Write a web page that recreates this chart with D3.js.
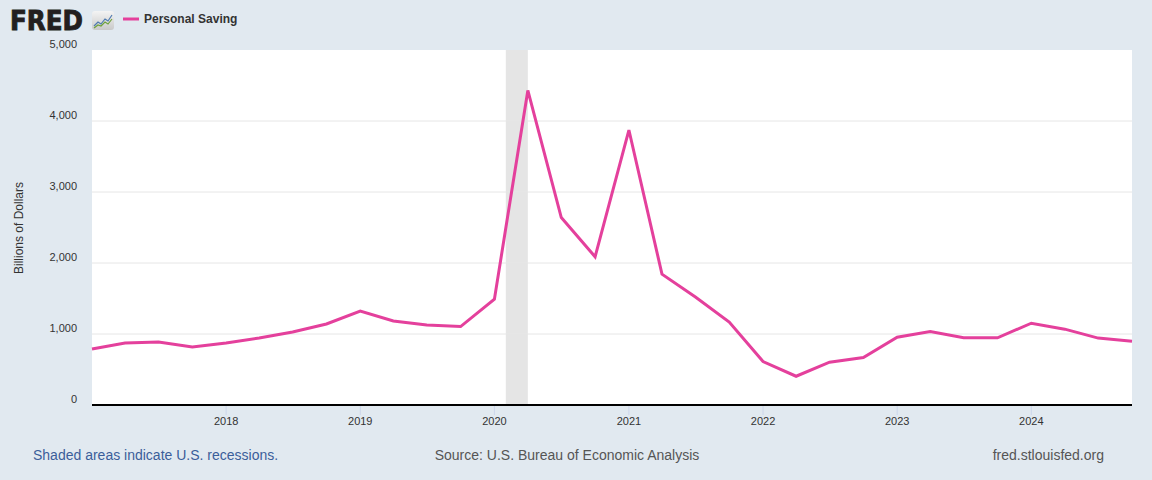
<!DOCTYPE html>
<html><head><meta charset="utf-8">
<script src="https://cdn.jsdelivr.net/npm/d3@7"></script>
<style>
html,body{margin:0;padding:0;background:#e1e9f0;}
svg{display:block;font-family:"Liberation Sans",Arial,sans-serif;}
</style></head><body>
<svg id="c" width="1152" height="480"></svg>
<script>
const dates = ["2017-01-01","2017-04-01","2017-07-01","2017-10-01","2018-01-01","2018-04-01","2018-07-01","2018-10-01",
"2019-01-01","2019-04-01","2019-07-01","2019-10-01","2020-01-01","2020-04-01","2020-07-01","2020-10-01",
"2021-01-01","2021-04-01","2021-07-01","2021-10-01","2022-01-01","2022-04-01","2022-07-01","2022-10-01",
"2023-01-01","2023-04-01","2023-07-01","2023-10-01","2024-01-01","2024-04-01","2024-07-01","2024-10-01"];
const saving = [789,873,887,817,873,944,1028,1141,1324,1183,1127,1105,1490,4430,2640,2087,
3873,1843,1521,1169,612,405,603,668,955,1036,946,946,1152,1068,942,899];
const yTicks = [0,1000,2000,3000,4000,5000];
const xTickYears = [2018,2019,2020,2021,2022,2023,2024];
const recessions = [["2020-02-01","2020-04-01"]];
const seriesName = "Personal Saving";
const yLabel = "Billions of Dollars";

const parse = d3.utcParse("%Y-%m-%d");
const data = dates.map((d,i)=>({date:parse(d), v:saving[i]}));
const svg = d3.select("#c");
const L=92, R=1132, T=50, B=405;
const x = d3.scaleUtc().domain([data[0].date, data[data.length-1].date]).range([L,R]);
const y = d3.scaleLinear().domain([0,5000]).range([B,T]);

svg.append("rect").attr("x",L).attr("y",T).attr("width",R-L).attr("height",B-T).attr("fill","#fff");

// recession shading
svg.selectAll(".rec").data(recessions).join("rect")
  .attr("x",d=>x(parse(d[0]))).attr("y",T)
  .attr("width",d=>x(parse(d[1]))-x(parse(d[0]))).attr("height",B-T)
  .attr("fill","#e5e5e5");

// gridlines
svg.selectAll(".grid").data(yTicks.filter(t=>t>0 && t<5000)).join("line")
  .attr("x1",L).attr("x2",R).attr("y1",d=>y(d)).attr("y2",d=>y(d))
  .attr("stroke","#e6e6e6").attr("stroke-width",1);

// y labels
svg.selectAll(".yl").data(yTicks).join("text")
  .attr("x",77).attr("y",d=>y(d)-2).attr("text-anchor","end")
  .attr("font-size",11).attr("fill","#333").text(d=>d3.format(",")(d));

svg.append("text").attr("transform","translate(23,228) rotate(-90)")
  .attr("text-anchor","middle").attr("font-size",12).attr("fill","#333").text(yLabel);

// x ticks
const xt = xTickYears.map(yr=>new Date(Date.UTC(yr,0,1)));
svg.selectAll(".xt").data(xt).join("line")
  .attr("x1",d=>x(d)).attr("x2",d=>x(d)).attr("y1",B).attr("y2",B+10)
  .attr("stroke","#ccd6eb").attr("stroke-width",1);
svg.selectAll(".xl").data(xt).join("text")
  .attr("x",d=>x(d)).attr("y",425).attr("text-anchor","middle")
  .attr("font-size",11).attr("fill","#333").text(d=>d.getUTCFullYear());

// axis line
svg.append("line").attr("x1",L).attr("x2",R).attr("y1",B).attr("y2",B)
  .attr("stroke","#000").attr("stroke-width",2);

// series line
const line = d3.line().x(d=>x(d.date)).y(d=>y(d.v));
svg.append("path").datum(data).attr("d",line).attr("fill","none")
  .attr("stroke","#e4409c").attr("stroke-width",3).attr("stroke-linejoin","miter");

// header logo
svg.append("text").attr("x",10).attr("y",30).attr("font-size",26).attr("font-weight",900)
  .attr("fill","#231f20").attr("stroke","#231f20").attr("stroke-width",0.9)
  .attr("font-family","'DejaVu Sans',sans-serif")
  .attr("textLength",73).attr("lengthAdjust","spacingAndGlyphs").text("FRED");
const ic = svg.append("g").attr("transform","translate(92,11)");
const grad = svg.append("defs").append("linearGradient").attr("id","g1").attr("x1",0).attr("y1",0).attr("x2",0).attr("y2",1);
grad.append("stop").attr("offset","0%").attr("stop-color","#f4f4f4");
grad.append("stop").attr("offset","100%").attr("stop-color","#c9c9c9");
ic.append("rect").attr("width",22).attr("height",19).attr("rx",3).attr("fill","url(#g1)");
ic.append("path").attr("d","M2,15 L6,11 L9,13 L13,8 L16,10 L20,4").attr("fill","none").attr("stroke","#4f7bb0").attr("stroke-width",1.2);
ic.append("path").attr("d","M2,17 L6,14 L9,15 L13,11 L16,13 L20,8").attr("fill","none").attr("stroke","#6ea23c").attr("stroke-width",1.2);

svg.append("line").attr("x1",123).attr("x2",139).attr("y1",19).attr("y2",19)
  .attr("stroke","#e4409c").attr("stroke-width",3);
svg.append("text").attr("x",144).attr("y",23).attr("font-size",12).attr("font-weight","bold")
  .attr("fill","#333").text(seriesName);

// footer
svg.append("text").attr("x",33).attr("y",460).attr("font-size",14).attr("fill","#3b5e9a")
  .text("Shaded areas indicate U.S. recessions.");
svg.append("text").attr("x",567).attr("y",460).attr("font-size",14).attr("fill","#555").attr("text-anchor","middle")
  .text("Source: U.S. Bureau of Economic Analysis");
svg.append("text").attr("x",1104).attr("y",460).attr("font-size",14).attr("fill","#555").attr("text-anchor","end")
  .text("fred.stlouisfed.org");
</script></body></html>
